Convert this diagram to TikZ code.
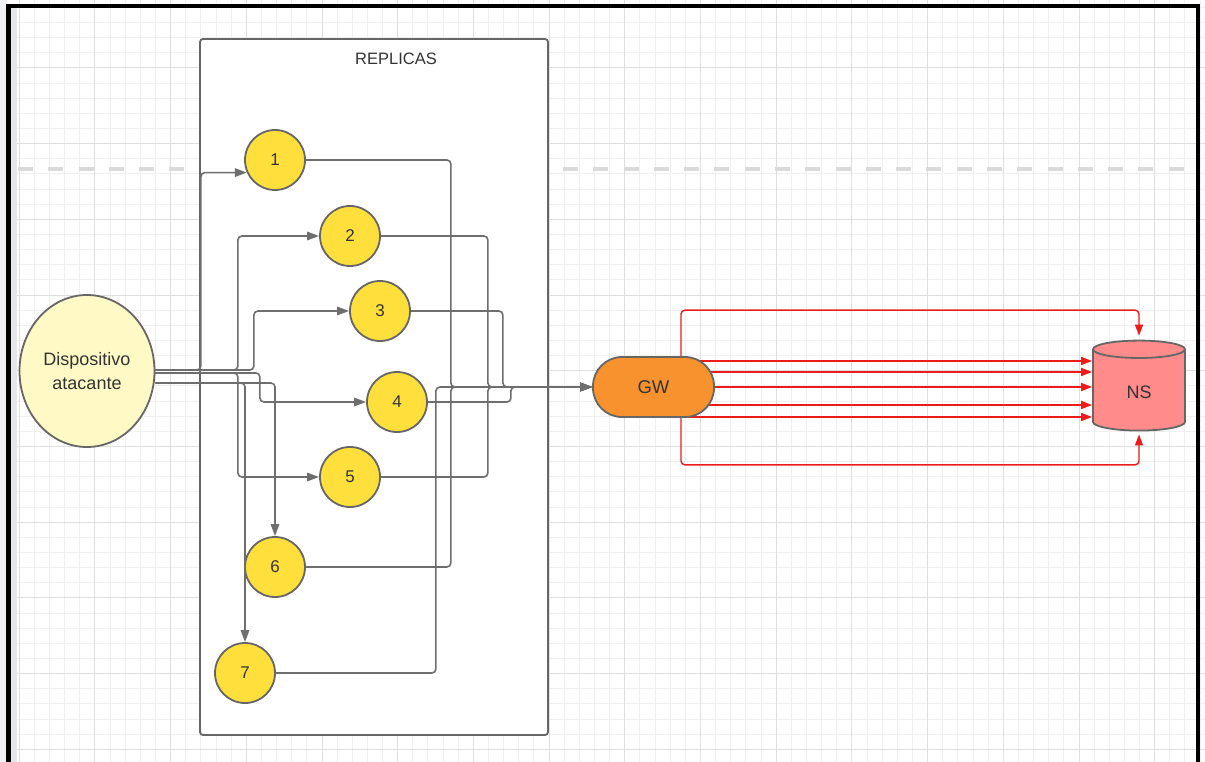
\documentclass[tikz,border=0pt]{standalone}
\usepackage{fontspec}
\setmainfont{Liberation Sans}
\usepackage{tikz}
\usetikzlibrary{calc, arrows.meta, shapes.geometric, backgrounds}

\definecolor{gridminor}{HTML}{F0F0F0}
\definecolor{gridmajor}{HTML}{DEDEDE}
\definecolor{dashline}{HTML}{DADADA}
\definecolor{sidestrip}{HTML}{F1F2F4}
\definecolor{sideshade}{HTML}{E6E7EB}
\definecolor{edgegray}{HTML}{666666}
\definecolor{wiregray}{HTML}{6E6E6E}
\definecolor{textgray}{HTML}{333333}
\definecolor{atkfill}{HTML}{FFF9C6}
\definecolor{replfill}{HTML}{FFDF3C}
\definecolor{gwfill}{HTML}{F8922E}
\definecolor{nsfill}{HTML}{FF8B8B}
\definecolor{flowred}{HTML}{EC1C1C}

\begin{document}
\begin{tikzpicture}[x=1pt, y=-1pt,
		every node/.style={text=textgray, font=\fontsize{17pt}{23pt}\selectfont},
		replica/.style={circle, draw=edgegray, line width=1.8pt, fill=replfill, minimum size=60pt, inner sep=0pt},
		flow/.style={draw=flowred, line width=1.4pt, rounded corners=4pt, -{Triangle[length=11pt, width=8pt]}}]

	\def\gx{19.2}
	\def\gy{7.44}
	\def\cell{15.14}

	\useasboundingbox (0,0) rectangle (1205,762);

	\begin{scope}[on background layer]
		\fill[white] (0,0) rectangle (1205,762);
		\foreach \i in {0,...,78}
			\draw[gridminor, line width=1pt] ({\gx+\i*\cell},0) -- ++(0,762);
		\foreach \i in {0,...,49}
			\draw[gridminor, line width=1pt] (0,{\gy+\i*\cell}) -- ++(1205,0);
		\foreach \i in {0,...,15}
			\draw[gridmajor, line width=1pt] ({\gx+5*\i*\cell},0) -- ++(0,762);
		\foreach \i in {0,...,9}
			\draw[gridmajor, line width=1pt] (0,{\gy+(5*\i+4)*\cell}) -- ++(1205,0);
	\end{scope}

	\draw[dashline, line width=4pt, dash pattern=on 15pt off 15.28pt] (18,169) -- (1195,169);

	\fill[sidestrip] (0,0) rectangle (6.5,762);
	\fill[sideshade] (10.5,8) rectangle (17,762);
	\draw[black, line width=4.5pt] (8.5,762) -- (8.5,6.2) -- (1198,6.2) -- (1198,762);

	\draw[edgegray, line width=1.8pt, fill=white, rounded corners=3pt] (200,39) rectangle (548,735);
	\node[font=\fontsize{16.5pt}{20pt}\selectfont] (replicas title) at (396,59) {REPLICAS};

	\node[ellipse, draw=edgegray, line width=1.8pt, fill=atkfill, minimum width=135pt, minimum height=152pt,
		inner sep=0pt, align=center, font=\fontsize{18pt}{24pt}\selectfont] (attacker) at (87,371) {Dispositivo\\atacante};

	\foreach \n/\px/\py in {1/275/160, 2/350/236, 3/380/311, 4/397/402, 5/350/477, 6/275/567, 7/245/673}
		\node[replica] (r\n) at (\px,\py) {\n};

	\node[draw=edgegray, line width=1.8pt, fill=gwfill, rounded corners=29pt, minimum width=121pt, minimum height=60pt,
		font=\fontsize{18.5pt}{22pt}\selectfont] (gw) at (653.5,387) {GW};
	\node[cylinder, shape border rotate=90, aspect=0.55, draw=edgegray, line width=1.8pt, fill=nsfill,
		minimum width=92pt, minimum height=90pt, font=\fontsize{18pt}{22pt}\selectfont] (ns) at (1139,392) {NS};

	\begin{scope}[wiregray, line width=1.6pt, rounded corners=4pt, -{Triangle[length=12pt, width=8.5pt]}]
		\draw ([yshift=1pt]attacker.east) -- ++(45.5,0) |- (r1.204);
		\draw ([yshift=1pt]attacker.east) -- ++(82.5,0) |- (r2.west);
		\draw ([yshift=1pt]attacker.east) -- ++(98.5,0) |- (r3.west);
		\draw ([yshift=-2pt]attacker.east) -- ++(104.5,0) |- (r4.west);
		\draw ([yshift=-2pt]attacker.east) -- ++(82.5,0) |- (r5.west);
		\draw ([yshift=-12pt]attacker.east) -| (r6.north);
		\draw ([yshift=-12pt]attacker.east) -| (r7.north);

		\draw (r1.east) -- ++(145,0) |- (gw.west);
		\draw (r2.east) -- ++(107,0) |- (gw.west);
		\draw (r3.east) -- ++(92,0) |- (gw.west);
		\draw (r4.east) -- ++(83,0) |- (gw.west);
		\draw (r5.east) -- ++(107,0) |- (gw.west);
		\draw (r6.east) -- ++(145,0) |- (gw.west);
		\draw (r7.east) -- ++(160,0) |- (gw.west);
	\end{scope}

	\begin{scope}[on background layer]
		\foreach \dy in {-26,-15,0,18,30}
			\draw[flow] ($(gw.center)+(0,\dy)$) -- ($(gw.center -| ns.west)+(0,\dy)$);
		\draw[flow, shorten >=4pt] ([xshift=27.5pt]gw.north) -- ++(0,-46) -| (ns.north);
		\draw[flow, shorten >=3pt] ([xshift=27.5pt]gw.south) -- ++(0,47) -| (ns.south);
	\end{scope}
\end{tikzpicture}
\end{document}
